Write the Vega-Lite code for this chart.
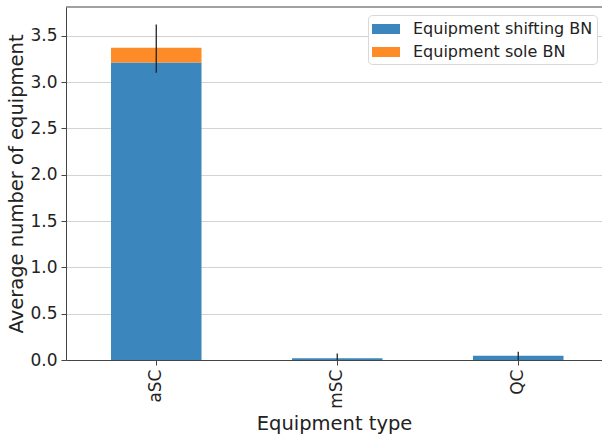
{
  "$schema": "https://vega.github.io/schema/vega-lite/v6.json",
  "autosize": "none",
  "width": 536,
  "height": 353,
  "padding": {"left": 66, "top": 7, "right": 0, "bottom": 77},
  "background": "white",
  "config": {
    "view": {"stroke": null},
    "font": "DejaVu Sans",
    "axis": {"labelFont": "DejaVu Sans", "titleFont": "DejaVu Sans", "labelColor": "#222", "titleColor": "#222", "titleFontWeight": "normal", "domainColor": "#444", "tickColor": "#444", "labelFontSize": 17, "titleFontSize": 19.5}
  },
  "datasets": {
    "bars": [
      {"type": "aSC", "series": "Equipment shifting BN", "value": 3.21},
      {"type": "aSC", "series": "Equipment sole BN", "value": 0.16},
      {"type": "mSC", "series": "Equipment shifting BN", "value": 0.02},
      {"type": "mSC", "series": "Equipment sole BN", "value": 0.0},
      {"type": "QC", "series": "Equipment shifting BN", "value": 0.046},
      {"type": "QC", "series": "Equipment sole BN", "value": 0.0}
    ],
    "errors": [
      {"type": "aSC", "low": 3.1, "high": 3.62},
      {"type": "mSC", "low": 0.0, "high": 0.07},
      {"type": "QC", "low": 0.0, "high": 0.09}
    ],
    "frame": [{"top": 3.81}]
  },
  "layer": [
    {
      "data": {"name": "bars"},
      "mark": {"type": "bar"},
      "encoding": {
        "x": {
          "field": "type", "type": "nominal", "sort": ["aSC", "mSC", "QC"],
          "scale": {"paddingInner": 0.5, "paddingOuter": 0.2307, "align": 0.539},
          "axis": {"title": "Equipment type", "labelAngle": -90, "labelAlign": "right", "labelBaseline": "middle", "tickSize": 5, "labelPadding": 4, "titlePadding": 6, "grid": false}
        },
        "y": {
          "field": "value", "type": "quantitative", "stack": "zero",
          "scale": {"domain": [0, 3.81], "nice": false},
          "axis": {"title": "Average number of equipment", "values": [0, 0.5, 1, 1.5, 2, 2.5, 3, 3.5], "format": ".1f", "tickSize": 5, "labelPadding": 4, "titlePadding": 3, "grid": true, "gridColor": "#d3d3d3", "gridWidth": 1}
        },
        "color": {
          "field": "series", "type": "nominal",
          "scale": {"domain": ["Equipment shifting BN", "Equipment sole BN"], "range": ["#3a86bd", "#fd8c28"]},
          "legend": {"title": null, "orient": "none", "legendX": 302, "legendY": 8, "padding": 4, "strokeColor": "#d8d8d8", "cornerRadius": 4, "fillColor": "white", "labelFontSize": 16, "labelFont": "DejaVu Sans", "labelColor": "#222", "labelLimit": 400, "symbolType": "M-1,-0.5H1.8V0.5H-1Z", "symbolSize": 400, "symbolStrokeWidth": 0, "symbolOpacity": 1, "rowPadding": 5, "labelOffset": 21}
        },
        "order": {"field": "series", "sort": "ascending"}
      }
    },
    {
      "data": {"name": "errors"},
      "mark": {"type": "rule", "color": "#222", "strokeWidth": 1.3},
      "encoding": {
        "x": {"field": "type", "type": "nominal", "sort": ["aSC", "mSC", "QC"]},
        "y": {"field": "low", "type": "quantitative"},
        "y2": {"field": "high"}
      }
    },
    {
      "data": {"name": "frame"},
      "mark": {"type": "rule", "color": "#444", "strokeWidth": 1.2},
      "encoding": {
        "y": {"field": "top", "type": "quantitative"}
      }
    }
  ]
}
